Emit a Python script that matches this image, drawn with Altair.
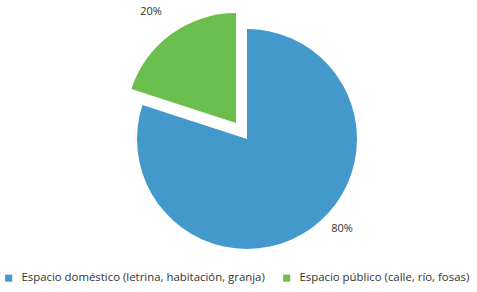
import altair as alt
import pandas as pd

categories = ["Espacio doméstico (letrina, habitación, granja)", "Espacio público (calle, río, fosas)"]
values = [80, 20]
labels = ["80%", "20%"]
colors = ["#4499CC", "#6ABF4F"]

df = pd.DataFrame({"cat": categories, "val": values, "lab": labels, "order": [0, 1]})

base = alt.Chart(df).transform_window(
    cum="sum(val)", sort=[alt.SortField("order")]
).transform_calculate(start="datum.cum - datum.val")

theta_scale = alt.Scale(domain=[0, 100], range=[0, 6.283185307])
color_enc = alt.Color(
    "cat:N",
    scale=alt.Scale(domain=categories, range=colors),
    sort=categories,
    legend=alt.Legend(
        title=None, orient="none", direction="horizontal", legendX=3, legendY=272,
        symbolType="square", symbolSize=50, labelFont="Open Sans", labelFontSize=11.4,
        labelColor="#333333", columnPadding=16, labelOffset=7, labelLimit=400,
    ),
)

blue = base.transform_filter(alt.datum.order == 0).mark_arc(
    x=247, y=139, outerRadius=110
).encode(
    theta=alt.Theta("start:Q", scale=theta_scale),
    theta2="cum:Q",
    color=color_enc,
)

green = base.transform_filter(alt.datum.order == 1).mark_arc(
    x=236, y=123, outerRadius=110
).encode(
    theta=alt.Theta("start:Q", scale=theta_scale),
    theta2="cum:Q",
    color=color_enc,
)

lab80 = alt.Chart(df).transform_filter(alt.datum.order == 0).mark_text(
    x=342, y=229, font="Open Sans", fontSize=11, color="#333333"
).encode(text="lab:N")

lab20 = alt.Chart(df).transform_filter(alt.datum.order == 1).mark_text(
    x=151, y=12, font="Open Sans", fontSize=11, color="#333333"
).encode(text="lab:N")

chart = alt.layer(blue, green, lab80, lab20).properties(
    width=477, height=292, autosize=alt.AutoSizeParams(type="none"), padding=0
).configure_view(stroke=None)

chart.save("out.html", embed_options={"renderer": "svg", "actions": False})
